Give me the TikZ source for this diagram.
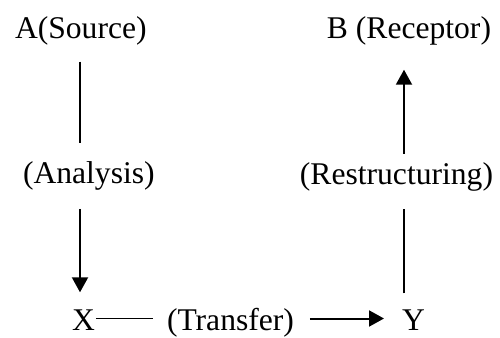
\documentclass[tikz,border=0pt]{standalone}
\usepackage{fontspec}
\setmainfont{Liberation Serif}
\usetikzlibrary{arrows.meta}
\begin{document}
\begin{tikzpicture}[x=1pt,y=1pt,
  lbl/.style={inner sep=0pt,outer sep=0pt,font=\fontsize{31.6}{38}\selectfont},
  plain/.style={line width=1.5pt},
  arr/.style={line width=2pt,-{Triangle[length=15pt,width=16pt]}}]
\useasboundingbox (0,0) rectangle (500,337);
\coordinate (colL) at (80,0);
\coordinate (colR) at (404,0);
\coordinate (rowB) at (0,18.5);
\node[lbl,anchor=base west] (A) at (15,298) {A(Source)};
\node[lbl,anchor=base east] (B) at (491,298) {B (Receptor)};
\node[lbl,anchor=base west] (An) at (23,153) {(Analysis)};
\node[lbl,anchor=base east] (Re) at (493,152) {(Restructuring)};
\node[lbl,anchor=base west] (X) at (72,7) {X};
\node[lbl,anchor=base west] (T) at (167,7) {(Transfer)};
\node[lbl,anchor=base west] (Y) at (402,7) {Y};
\draw[plain,shorten <=16pt,shorten >=19.5pt] (A.south -| colL) -- (An.north -| colL);
\draw[arr,shorten <=18pt,shorten >=17pt] (An.south -| colL) -- (X.north -| colL);
\draw[plain,shorten <=1pt,shorten >=14pt] (X.east |- rowB) -- (T.west |- rowB);
\draw[arr,shorten <=16pt,shorten >=18pt] (T.east |- rowB) -- (Y.west |- rowB);
\draw[plain,shorten <=16pt,shorten >=17pt] (Y.north -| colR) -- (Re.south -| colR);
\draw[arr,shorten <=9.5pt,shorten >=24pt] (Re.north -| colR) -- (B.south -| colR);
\end{tikzpicture}
\end{document}
